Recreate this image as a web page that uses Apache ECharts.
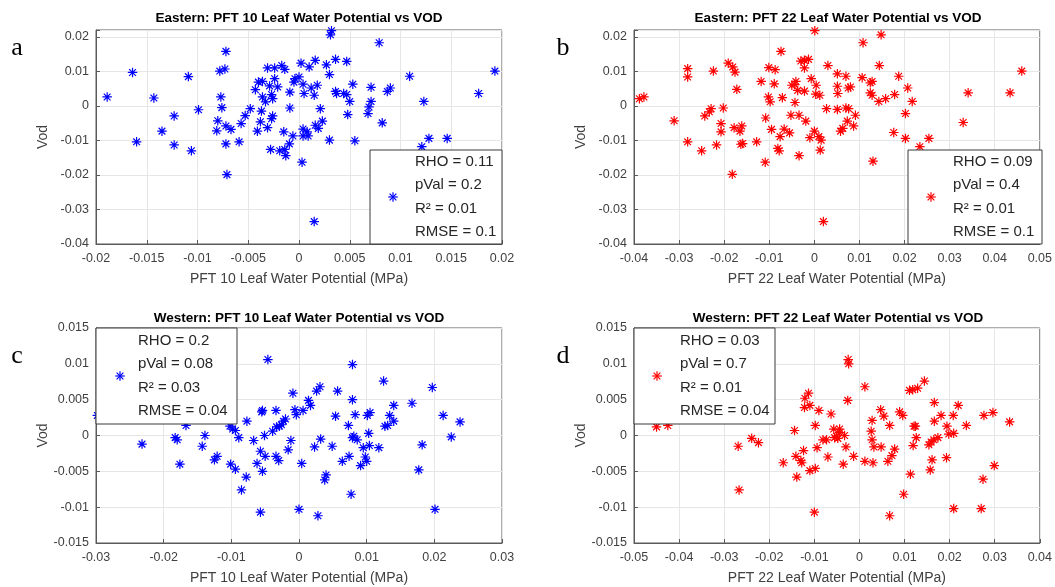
<!DOCTYPE html>
<html>
<head>
<meta charset="utf-8">
<script src="https://cdn.jsdelivr.net/npm/echarts@6/dist/echarts.min.js"></script>
<style>
  html, body { margin: 0; padding: 0; background: #ffffff; }
  #chart { width: 1055px; height: 587px; }
</style>
</head>
<body>
<div id="chart"></div>
<script>
// ---- Eastern, PFT 10: leaf water potential (MPa) vs VOD ----
const eastPft10Lwp = [
  -0.0189, -0.0164, -0.0160, -0.0143, -0.0135, -0.0123, -0.0123, -0.0109, -0.0106, -0.0099,
  -0.0072, -0.0073, -0.0078, -0.0077, -0.0076, -0.0080, -0.0081, -0.0072, -0.0067, -0.0072,
  -0.0071, -0.0059, -0.0057, -0.0053, -0.0048, -0.0043, -0.0040, -0.0036, -0.0036, -0.0033,
  -0.0037, -0.0038, -0.0041, -0.0031, -0.0029, -0.0027, -0.0026, -0.0026, -0.0027, -0.0031,
  -0.0028, -0.0024, -0.0024, -0.0021, -0.0017, -0.0014, -0.0015, -0.0019, -0.0014, -0.0013,
  -0.00095, -0.0006, -0.0009, -0.0009, -0.0005, -0.0004, 0.0000, 0.0002, 0.0004, 0.0005,
  0.0004, 0.0004, 0.0003, 0.0032, 0.0031, 0.0079, 0.0010, 0.0016, 0.0027, 0.0036,
  0.0047, 0.0030, 0.0012, 0.0018, 0.0015, 0.0021, 0.0023, 0.0016, 0.0019, 0.0008,
  0.0009, 0.0030, 0.0036, 0.0037, 0.0044, 0.0047, 0.0050, 0.0053, 0.0048, 0.0055,
  0.0071, 0.0071, 0.0069, 0.0068, 0.0082, 0.0087, 0.0090, 0.0109, 0.0123, 0.0128,
  0.0121, 0.0146, 0.0177, 0.0193, 0.0015
];
const eastPft10Vod = [
  0.0026, 0.0097, -0.0104, 0.0023, -0.0073, -0.0029, -0.0113, 0.0085, -0.0130, -0.0011,
  0.0158, 0.0107, 0.0101, 0.0026, -0.0005, -0.0043, -0.0072, -0.0058, -0.0068, -0.0110,
  -0.0199, -0.0104, -0.0051, -0.0028, -0.0008, 0.0047, 0.0069, 0.0071, 0.0026, 0.0012,
  -0.0015, -0.0046, -0.0073, 0.0110, 0.0058, 0.0033, 0.0021, -0.0029, -0.0037, -0.0063,
  -0.0126, 0.0110, 0.0079, 0.0055, 0.0117, 0.0106, -0.0075, -0.0130, -0.0126, -0.0144,
  -0.0110, -0.0087, 0.0040, -0.0006, 0.0069, 0.0079, 0.0084, 0.0124, 0.0063, 0.0036,
  -0.0067, -0.0087, -0.0163, 0.0218, 0.0206, 0.0183, 0.0113, 0.0132, 0.0119, 0.0135,
  0.0129, 0.0091, 0.0052, 0.0060, 0.0031, -0.0008, -0.0044, -0.0056, -0.0065, -0.0075,
  -0.0087, -0.0099, 0.0042, 0.0036, 0.0036, 0.0033, 0.0013, 0.0063, -0.0025, -0.0101,
  0.0054, 0.0013, -0.0003, -0.0022, -0.0049, 0.0042, 0.0052, 0.0086, 0.0013, -0.0094,
  -0.0118, -0.0094, 0.0036, 0.0101, -0.0335
];

// ---- Eastern, PFT 22 ----
const eastPft22Lwp = [
  -0.0388, -0.0378, -0.0311, -0.0281, -0.0281, -0.0281, -0.0250, -0.0243, -0.0233, -0.0229,
  -0.0224, -0.0217, -0.0207, -0.0207, -0.0202, -0.0191, -0.0181, -0.0176, -0.0172, -0.0178,
  -0.0165, -0.0161, -0.0163, -0.0159, -0.0182, -0.0128, -0.0118, -0.0108, -0.0109, -0.0102,
  -0.0098, -0.0101, -0.0087, -0.0089, -0.0095, -0.0076, -0.0081, -0.0078, -0.0074, -0.0071,
  -0.0067, -0.0055, -0.0052, -0.0050, -0.0044, -0.0041, -0.0043, -0.0037, -0.0034, -0.0034,
  -0.0030, -0.0022, -0.0013, -0.0022, -0.0022, -0.0019, -0.0007, -0.0010, 0.0000, 0.0001,
  0.0004, 0.0003, 0.0108, 0.0148, 0.0030, 0.0051, 0.0070, 0.0106, 0.0144, 0.0124,
  0.0128, 0.0124, 0.0128, 0.0187, 0.0207, 0.0178, 0.0158, 0.0143, 0.0217, 0.0012,
  0.0051, 0.0052, 0.0075, 0.0080, 0.0027, 0.0051, 0.0070, 0.0076, 0.0091, 0.0073,
  0.0063, 0.0058, 0.0087, 0.0010, 0.0015, 0.0013, 0.0130, 0.0176, 0.0202, 0.0202,
  0.0234, 0.0254, 0.0341, 0.0330, 0.0434, 0.0460, 0.0020
];
const eastPft22Vod = [
  0.0021, 0.0026, -0.0043, 0.0108, 0.0084, -0.0104, -0.0130, -0.0029, -0.0017, -0.0008,
  0.0101, -0.0113, -0.0051, -0.0075, -0.0006, 0.0124, 0.0113, 0.0098, 0.0048, -0.0063,
  -0.0073, -0.0058, -0.0111, -0.0109, -0.0198, -0.0104, 0.0071, -0.0035, -0.0163, 0.0026,
  0.0012, 0.0111, 0.0105, 0.0064, -0.0068, -0.0089, -0.0123, -0.0130, 0.0158, 0.0024,
  -0.0067, -0.0078, -0.0027, 0.0060, 0.0062, 0.0071, 0.0010, 0.0045, -0.0027, -0.0144,
  0.0130, 0.0132, 0.0135, 0.0110, 0.0043, -0.0044, 0.0079, -0.0092, -0.0073, 0.0218,
  0.0060, 0.0034, 0.0183, 0.0206, 0.0117, 0.0093, 0.0086, 0.0082, 0.0117, 0.0067,
  0.0071, 0.0038, 0.0031, 0.0086, 0.0052, 0.0033, 0.0021, 0.0013, 0.0013, 0.0031,
  0.0057, 0.0036, 0.0052, 0.0055, -0.0008, -0.0010, -0.0006, -0.0008, -0.0027, -0.0044,
  -0.0065, -0.0073, -0.0058, -0.0089, -0.0099, -0.0128, -0.0160, -0.0077, -0.0094, -0.0022,
  -0.0118, -0.0094, 0.0038, -0.0048, 0.0038, 0.0101, -0.0335
];

// ---- Western, PFT 10 ----
const westPft10Lwp = [
  -0.0046, -0.0298, -0.0167, -0.0232, -0.0183, -0.0180, -0.0176, -0.0139, -0.0143, -0.0125,
  -0.0121, -0.0102, -0.0098, -0.0094, -0.0089, -0.0077, -0.0101, -0.0094, -0.0078, -0.0085,
  -0.0067, -0.0062, -0.0057, -0.0054, -0.0054, -0.0055, -0.0051, -0.0050, -0.0057, -0.0034,
  -0.0039, -0.0033, -0.0029, -0.0026, -0.0023, -0.0020, -0.0034, -0.0030, -0.0016, -0.0012,
  -0.0009, -0.0006, -0.0004, 0.0000, 0.0079, 0.0125, 0.0197, 0.0026, 0.0031, 0.0057,
  0.0079, 0.0014, 0.0017, 0.0006, 0.0054, 0.0083, 0.0101, 0.0105, 0.0073, 0.0081,
  0.0079, 0.0086, 0.0103, 0.0032, 0.0023, 0.0049, 0.0074, 0.0064, 0.0095, 0.0104,
  0.0118, 0.0098, 0.0100, 0.0091, 0.0004, 0.0040, 0.0038, 0.0077, 0.0028, 0.0127,
  0.0131, 0.0134, 0.0140, 0.0140, 0.0167, 0.0182, 0.0177, 0.0213, 0.0238, 0.0225,
  0.0201
];
const westPft10Vod = [
  0.0106, 0.0028, 0.0014, -0.0012, -0.0003, -0.0006, -0.0040, 0.0000, -0.0015, -0.0034,
  -0.0029, 0.0013, 0.0009, 0.0007, -0.0003, 0.0020, -0.0040, -0.0047, -0.0058, -0.0076,
  -0.0007, -0.0039, -0.0022, -0.0050, 0.0035, 0.0033, 0.0000, -0.0029, -0.0107, 0.0035,
  0.0006, 0.0012, 0.0013, 0.0015, 0.0020, 0.0023, -0.0029, -0.0035, -0.0020, -0.0007,
  0.0059, 0.0036, 0.0029, -0.0103, 0.0099, 0.0076, 0.0067, 0.0062, 0.0068, 0.0062,
  0.0050, 0.0049, 0.0042, 0.0035, 0.0027, 0.0029, 0.0028, 0.0032, 0.0014, -0.0001,
  -0.0003, -0.0006, 0.0003, -0.0005, -0.0016, -0.0015, -0.0029, -0.0036, -0.0017, -0.0014,
  -0.0017, -0.0030, -0.0036, -0.0042, -0.0039, -0.0055, -0.0062, -0.0082, -0.0112, 0.0013,
  0.0014, 0.0028, 0.0020, 0.0042, 0.0045, -0.0013, -0.0048, 0.0028, 0.0019, -0.0002,
  -0.0103
];

// ---- Western, PFT 22 ----
const westPft22Lwp = [
  -0.0450, -0.0425, -0.0269, -0.0239, -0.0224, -0.0267, -0.0169, -0.0144, -0.0139, -0.0141,
  -0.0130, -0.0128, -0.0124, -0.0122, -0.0121, -0.0113, -0.0110, -0.0110, -0.0100, -0.0025,
  -0.0024, 0.0012, -0.0026, -0.0090, -0.0098, -0.0063, -0.0094, -0.0098, -0.0070, -0.0081,
  -0.0073, -0.0057, -0.0044, -0.0055, -0.0051, -0.0048, -0.0033, -0.0044, -0.0030, -0.0036,
  -0.0013, 0.0012, 0.0030, 0.0028, 0.0026, 0.0028, 0.0032, 0.0047, 0.0054, 0.0048,
  0.0067, 0.0063, 0.0072, 0.0078, 0.0067, 0.0089, 0.0096, 0.0098, 0.0113, 0.0111,
  0.0118, 0.0129, 0.0144, 0.0121, 0.0124, 0.0126, 0.0119, 0.0154, 0.0159, 0.0165,
  0.0174, 0.0161, 0.0157, 0.0166, 0.0166, 0.0181, 0.0194, 0.0198, 0.0209, 0.0193,
  0.0208, 0.0219, 0.0237, 0.0209, 0.0270, 0.0274, 0.0276, 0.0296, 0.0299, 0.0333
];
const westPft22Vod = [
  0.0012, 0.0014, -0.0015, -0.0004, -0.0010, -0.0076, -0.0038, 0.0007, -0.0058, -0.0029,
  -0.0035, -0.0038, -0.0021, 0.0039, 0.0052, 0.0059, 0.0042, -0.0049, -0.0107, 0.0106,
  0.0100, 0.0068, 0.0049, 0.0035, 0.0014, 0.0030, -0.0017, -0.0046, -0.0030, -0.0006,
  -0.0006, 0.0009, 0.0009, -0.0003, -0.0001, -0.0004, 0.0000, 0.0004, -0.0016, -0.0040,
  -0.0029, -0.0036, -0.0038, 0.0021, 0.0006, -0.0006, -0.0016, 0.0036, 0.0027, -0.0016,
  0.0014, -0.0036, -0.0028, -0.0019, -0.0112, 0.0033, 0.0028, -0.0082, -0.0054, 0.0063,
  0.0064, 0.0066, 0.0076, 0.0013, 0.0013, -0.0003, -0.0014, -0.0013, -0.0009, -0.0006,
  -0.0003, -0.0034, -0.0048, 0.0046, 0.0020, 0.0028, 0.0013, 0.0002, 0.0003, -0.0031,
  0.0028, 0.0042, 0.0014, -0.0102, -0.0102, -0.0061, 0.0028, 0.0032, -0.0042, 0.0019
];

// ---- Fit statistics shown in each panel's legend ----
const statsEast10 = ['RHO = 0.11', 'pVal = 0.2', 'R\u00B2 = 0.01', 'RMSE = 0.1'];
const statsEast22 = ['RHO = 0.09', 'pVal = 0.4', 'R\u00B2 = 0.01', 'RMSE = 0.1'];
const statsWest10 = ['RHO = 0.2', 'pVal = 0.08', 'R\u00B2 = 0.03', 'RMSE = 0.04'];
const statsWest22 = ['RHO = 0.03', 'pVal = 0.7', 'R\u00B2 = 0.01', 'RMSE = 0.04'];

// ---- Titles and axis labels ----
const panelTitles = [
  'Eastern: PFT 10 Leaf Water Potential vs VOD',
  'Eastern: PFT 22 Leaf Water Potential vs VOD',
  'Western: PFT 10 Leaf Water Potential vs VOD',
  'Western: PFT 22 Leaf Water Potential vs VOD'
];
const xNames = [
  'PFT 10 Leaf Water Potential (MPa)',
  'PFT 22 Leaf Water Potential (MPa)',
  'PFT 10 Leaf Water Potential (MPa)',
  'PFT 22 Leaf Water Potential (MPa)'
];
const panelLetters = ['a', 'b', 'c', 'd'];

// ---- Tick values ----
const xTicksPft10East = [-0.02, -0.015, -0.01, -0.005, 0, 0.005, 0.01, 0.015, 0.02];
const xTicksPft22East = [-0.04, -0.03, -0.02, -0.01, 0, 0.01, 0.02, 0.03, 0.04, 0.05];
const xTicksPft10West = [-0.03, -0.02, -0.01, 0, 0.01, 0.02, 0.03];
const xTicksPft22West = [-0.05, -0.04, -0.03, -0.02, -0.01, 0, 0.01, 0.02, 0.03, 0.04];
const yTicksEast = [-0.04, -0.03, -0.02, -0.01, 0, 0.01, 0.02];
const yTicksWest = [-0.015, -0.01, -0.005, 0, 0.005, 0.01, 0.015];

const FONT = '"Liberation Sans", Arial, Helvetica, sans-serif';
const AXIS_GRAY = '#5a5a5a';
const LABEL_GRAY = '#404040';
const BLUE = '#0000ff';
const RED = '#ff0000';
const ASTERISK = 'path://M0,5L10,5M5,0L5,10M1.46,1.46L8.54,8.54M8.54,1.46L1.46,8.54';

const zip = (xs, ys) => xs.map((x, i) => [x, ys[i]]);
const fmt = v => String(parseFloat(v.toFixed(4)));

// Only label the ticks that belong to the list (hides the extended top limit)
function tickFormatter(ticks) {
  return function (v) {
    const r = parseFloat(v.toFixed(4));
    return ticks.some(t => Math.abs(t - r) < 1e-9) ? fmt(v) : '';
  };
}

const grids = [
  { left: 96, top: 30, width: 406, height: 214 },
  { left: 634, top: 30, width: 408, height: 214 },
  { left: 96, top: 328, width: 406, height: 215 },
  { left: 634, top: 328, width: 408, height: 215 }
];

function xAxisFor(i, ticks, step) {
  return {
    type: 'value', gridIndex: i,
    min: ticks[0], max: ticks[ticks.length - 1], interval: step,
    name: xNames[i], nameLocation: 'middle', nameGap: 28,
    nameTextStyle: { fontFamily: FONT, fontSize: 14, color: LABEL_GRAY },
    axisLine: { show: true, onZero: false, lineStyle: { color: AXIS_GRAY, width: 1 } },
    axisTick: { show: true, inside: true, length: 4, lineStyle: { color: AXIS_GRAY } },
    axisLabel: { fontFamily: FONT, fontSize: 12.5, color: LABEL_GRAY, margin: 8,
                 formatter: tickFormatter(ticks), showMinLabel: true, showMaxLabel: true },
    splitLine: { show: true, lineStyle: { color: '#e6e6e6', width: 1 } }
  };
}

function yAxisFor(i, ticks, step, max) {
  return {
    type: 'value', gridIndex: i,
    min: ticks[0], max: max, interval: step,
    name: 'Vod', nameLocation: 'middle', nameGap: 46,
    nameTextStyle: { fontFamily: FONT, fontSize: 14, color: LABEL_GRAY },
    axisLine: { show: true, onZero: false, lineStyle: { color: AXIS_GRAY, width: 1 } },
    axisTick: { show: true, inside: true, length: 4, lineStyle: { color: AXIS_GRAY } },
    axisLabel: { fontFamily: FONT, fontSize: 12.5, color: LABEL_GRAY, margin: 7,
                 formatter: tickFormatter(ticks), showMinLabel: true, showMaxLabel: true },
    splitLine: { show: true, lineStyle: { color: '#e6e6e6', width: 1 } }
  };
}

function scatterFor(i, xs, ys, color) {
  return {
    type: 'scatter', xAxisIndex: i, yAxisIndex: i,
    data: zip(xs, ys),
    symbol: ASTERISK, symbolSize: 9.5,
    itemStyle: { color: 'none', borderColor: color, borderWidth: 1.2, opacity: 1 },
    emphasis: { disabled: true },
    silent: true, z: 3
  };
}

// Legend box: white panel with a marker sample on the left and the statistics on the right
function legendBox(box, markerX, textX, color, stats) {
  const els = [{
    type: 'rect', z: 100,
    shape: { x: box.x, y: box.y, width: box.w, height: box.h },
    style: { fill: '#ffffff', stroke: '#3a3a3a', lineWidth: 1 }
  }];
  const cy = box.y + box.h / 2;
  const r = 4.75, d = r * 0.7071;
  [[-r, 0, r, 0], [0, -r, 0, r], [-d, -d, d, d], [d, -d, -d, d]].forEach(s => {
    els.push({ type: 'line', z: 101,
      shape: { x1: markerX + s[0], y1: cy + s[1], x2: markerX + s[2], y2: cy + s[3] },
      style: { stroke: color, lineWidth: 1.2 } });
  });
  const lineH = 23.3;
  const first = cy - 1.5 * lineH;
  stats.forEach((t, k) => {
    els.push({ type: 'text', z: 101, x: textX, y: first + k * lineH,
      style: { text: t, fontFamily: FONT, fontSize: 15, fill: '#262626',
               align: 'left', verticalAlign: 'middle' } });
  });
  return els;
}

const titleCenters = [
  [299, 18], [838, 18], [299, 318], [838, 318]
];
const letterPos = [[17, 48], [563, 48], [17, 356], [563, 356]];

const graphics = [];
panelTitles.forEach((t, i) => {
  graphics.push({ type: 'text', z: 100, x: titleCenters[i][0], y: titleCenters[i][1],
    style: { text: t, fontFamily: FONT, fontSize: 13.5, fontWeight: 'bold', fill: '#000000',
             align: 'center', verticalAlign: 'middle' } });
});
panelLetters.forEach((t, i) => {
  graphics.push({ type: 'text', z: 100, x: letterPos[i][0], y: letterPos[i][1],
    style: { text: t, fontFamily: '"Liberation Serif", "Times New Roman", serif', fontSize: 26,
             fill: '#000000', align: 'center', verticalAlign: 'middle' } });
});
graphics.push(...legendBox({ x: 370, y: 150, w: 132, h: 94 }, 393, 415, BLUE, statsEast10));
graphics.push(...legendBox({ x: 908, y: 150, w: 134, h: 94 }, 931, 953, RED, statsEast22));
graphics.push(...legendBox({ x: 96, y: 328, w: 141, h: 96 }, 120, 138, BLUE, statsWest10));
graphics.push(...legendBox({ x: 634, y: 328, w: 141, h: 96 }, 657, 680, RED, statsWest22));

const chart = echarts.init(document.getElementById('chart'), null, { renderer: 'canvas' });
chart.setOption({
  animation: false,
  backgroundColor: '#ffffff',
  grid: grids.map(g => Object.assign({ show: true, borderColor: AXIS_GRAY, borderWidth: 1,
                                         backgroundColor: 'transparent', containLabel: false }, g)),
  xAxis: [
    xAxisFor(0, xTicksPft10East, 0.005),
    xAxisFor(1, xTicksPft22East, 0.01),
    xAxisFor(2, xTicksPft10West, 0.01),
    xAxisFor(3, xTicksPft22West, 0.01)
  ],
  yAxis: [
    yAxisFor(0, yTicksEast, 0.01, 0.022),
    yAxisFor(1, yTicksEast, 0.01, 0.022),
    yAxisFor(2, yTicksWest, 0.005, 0.015),
    yAxisFor(3, yTicksWest, 0.005, 0.015)
  ],
  series: [
    scatterFor(0, eastPft10Lwp, eastPft10Vod, BLUE),
    scatterFor(1, eastPft22Lwp, eastPft22Vod, RED),
    scatterFor(2, westPft10Lwp, westPft10Vod, BLUE),
    scatterFor(3, westPft22Lwp, westPft22Vod, RED)
  ],
  graphic: { elements: graphics }
});
</script>
</body>
</html>
